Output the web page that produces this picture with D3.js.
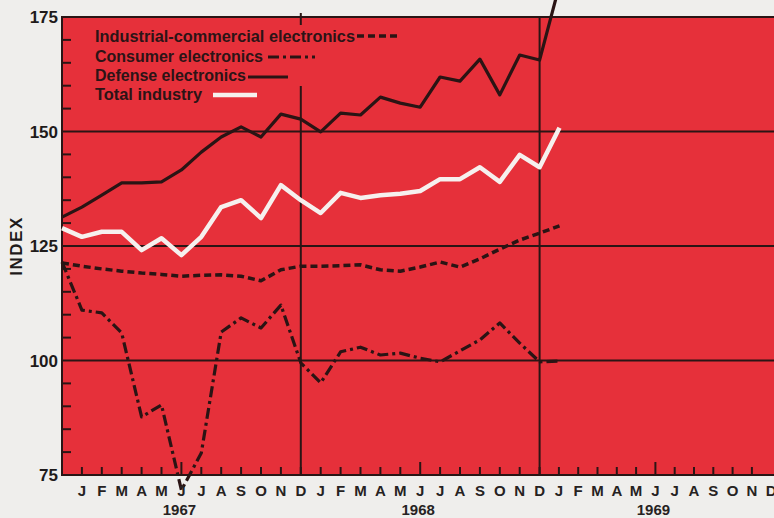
<!DOCTYPE html>
<meta charset="utf-8">
<style>
body { margin: 0; background: #efeeec; }
svg { display: block; font-family: "Liberation Sans", Arial, sans-serif; }
.ylab { font-size: 17px; font-weight: bold; fill: #1e1a1a; text-anchor: end; }
.mlab { font-size: 15px; font-weight: bold; fill: #262222; text-anchor: middle; }
.year { font-size: 15px; font-weight: bold; fill: #262222; text-anchor: middle; }
.leg { font-size: 16px; font-weight: bold; fill: #2c1416; }
.grid { stroke: #2a1515; stroke-width: 2; }
.tick { stroke: #2a1515; stroke-width: 2; }
.series { fill: none; stroke-linejoin: round; }
</style>
<body>
<script src="https://cdn.jsdelivr.net/npm/d3@7"></script>
<script>
// months from Dec 1966 (index 0) to Jan 1969 (index 25)
var industrial = [121.3, 120.6, 120.0, 119.5, 119.1, 118.8, 118.4, 118.6, 118.7, 118.4, 117.4, 119.8,
                  120.6, 120.6, 120.7, 120.9, 119.8, 119.5, 120.4, 121.5, 120.4, 122.2, 124.3, 126.3, 127.8, 129.4];
var consumer   = [121.5, 111.0, 110.4, 106.0, 87.7, 90.3, 71.7, 79.8, 106.2, 109.3, 107.1, 112.1,
                  99.5, 95.1, 101.9, 102.9, 101.2, 101.6, 100.5, 99.7, 102.1, 104.5, 108.2, 103.8, 99.7, 99.9];
var defense    = [131.3, 133.5, 136.1, 138.8, 138.8, 139.0, 141.6, 145.5, 148.8, 151.0, 148.8, 153.8,
                  152.7, 149.9, 154.0, 153.6, 157.5, 156.2, 155.3, 161.9, 161.0, 165.8, 158.0, 166.7, 165.6, 182.0];
var total      = [128.9, 127.0, 128.1, 128.1, 124.1, 126.7, 123.0, 127.0, 133.5, 135.0, 131.1, 138.3,
                  135.0, 132.2, 136.6, 135.5, 136.1, 136.4, 137.0, 139.6, 139.6, 142.2, 139.0, 144.9, 142.2, 150.8];

var monthLetters = ["J","F","M","A","M","J","J","A","S","O","N","D"];
var years = ["1967", "1968", "1969"];
var yMajor = [175, 150, 125, 100, 75];
var legendNames = ["Industrial-commercial electronics", "Consumer electronics", "Defense electronics", "Total industry"];

var width = 774, height = 518;
var red = "#e6303a", ink = "#2a1414";

var x = d3.scaleLinear().domain([0, 36]).range([62, 62 + 19.9 * 36]);
// the 1969 part of the printed axis is a little tighter
var xAxis = d3.scaleLinear().domain([0, 24, 36]).range([x(0), x(24), x(24) + 19.3 * 12]);
var y = d3.scaleLinear().domain([75, 175]).range([475, 17]);

var svg = d3.select("body").append("svg")
    .attr("width", width)
    .attr("height", height);

// red plot field
svg.append("rect")
    .attr("x", x(0)).attr("y", y(175))
    .attr("width", width - x(0)).attr("height", y(75) - y(175))
    .attr("fill", red);

// horizontal grid lines at the major values
svg.selectAll(".grid")
    .data(yMajor.slice(1, 4))
  .enter().append("line")
    .attr("class", "grid")
    .attr("x1", x(0)).attr("x2", width)
    .attr("y1", function(d) { return y(d); })
    .attr("y2", function(d) { return y(d); });

// December year dividers
svg.selectAll(".divider")
    .data([12, 24])
  .enter().append("line")
    .attr("class", "grid")
    .attr("x1", function(d) { return x(d); })
    .attr("x2", function(d) { return x(d); })
    .attr("y1", function(d) { return d == 12 ? y(175) - 4 : y(175); })
    .attr("y2", y(75));

// minor ticks on the left axis
var yMinor = d3.range(80, 175, 5).filter(function(v) { return v % 25 != 0; });
svg.selectAll(".ytick")
    .data(yMinor)
  .enter().append("line")
    .attr("class", "tick")
    .attr("x1", x(0)).attr("x2", x(0) + 9)
    .attr("y1", function(d) { return y(d); })
    .attr("y2", function(d) { return y(d); });

// month ticks on the bottom axis, June a bit longer
svg.selectAll(".xtick")
    .data(d3.range(1, 36))
  .enter().append("line")
    .attr("class", "tick")
    .attr("stroke-width", 1.5)
    .attr("x1", function(d) { return xAxis(d); })
    .attr("x2", function(d) { return xAxis(d); })
    .attr("y1", y(75))
    .attr("y2", function(d) { return y(75) - (d % 12 == 6 ? 13 : 8); });

// legend backing (hides the divider behind the text)
svg.append("rect")
    .attr("x", 90).attr("y", 25).attr("width", 320).attr("height", 61)
    .attr("fill", red);

// axis frame
svg.append("line").attr("class", "grid").attr("stroke-width", 2.5)
    .attr("x1", x(0)).attr("x2", width).attr("y1", y(175)).attr("y2", y(175));
svg.append("line").attr("class", "grid").attr("stroke-width", 2.5)
    .attr("x1", x(0)).attr("x2", width).attr("y1", y(75)).attr("y2", y(75));
svg.append("line").attr("class", "grid").attr("stroke-width", 2.5)
    .attr("x1", x(0)).attr("x2", x(0)).attr("y1", y(175) - 1).attr("y2", y(75) + 1);

// series lines
var line = d3.line()
    .x(function(d, i) { return x(i); })
    .y(function(d) { return y(d); });

var styles = [
  { data: industrial, color: ink, w: 3.5, dash: "7,4" },
  { data: consumer, color: ink, w: 3.2, dash: "11,4,3,4" },
  { data: defense, color: ink, w: 3.2, dash: null },
  { data: total, color: "#f6f0ee", w: 4.5, dash: null }
];

svg.selectAll(".series")
    .data(styles)
  .enter().append("path")
    .attr("class", "series")
    .attr("d", function(d) { return line(d.data); })
    .attr("stroke", function(d) { return d.color; })
    .attr("stroke-width", function(d) { return d.w; })
    .attr("stroke-dasharray", function(d) { return d.dash; });

// legend
var legendPos = [
  { ty: 41.5, tw: 260, lx1: 357, lx2: 400, ly: 36 },
  { ty: 61.5, tw: 168, lx1: 268, lx2: 315, ly: 57 },
  { ty: 81, tw: 151, lx1: 248, lx2: 288, ly: 77 },
  { ty: 100, tw: 107, lx1: 213, lx2: 257, ly: 95 }
];
legendNames.forEach(function(name, i) {
  var p = legendPos[i], s = styles[i];
  svg.append("text")
      .attr("class", "leg")
      .attr("x", 95).attr("y", p.ty)
      .attr("textLength", p.tw)
      .attr("lengthAdjust", "spacingAndGlyphs")
      .text(name);
  svg.append("line")
      .attr("x1", p.lx1).attr("x2", p.lx2)
      .attr("y1", p.ly).attr("y2", p.ly)
      .attr("stroke", s.color)
      .attr("stroke-width", s.w)
      .attr("stroke-dasharray", s.dash);
});

// y labels
svg.selectAll(".ylab")
    .data(yMajor)
  .enter().append("text")
    .attr("class", "ylab")
    .attr("x", 58)
    .attr("y", function(d) { return y(d) + 6; })
    .text(function(d) { return d; });

svg.append("text")
    .attr("class", "ylab")
    .attr("letter-spacing", 1.5)
    .attr("font-size", 15)
    .attr("transform", "translate(22,246) rotate(-90)")
    .style("text-anchor", "middle")
    .text("INDEX");

// month and year labels
svg.selectAll(".mlab")
    .data(d3.range(1, 37))
  .enter().append("text")
    .attr("class", "mlab")
    .attr("x", function(d) { return xAxis(d); })
    .attr("y", 496)
    .text(function(d) { return monthLetters[(d - 1) % 12]; });

svg.selectAll(".year")
    .data(years)
  .enter().append("text")
    .attr("class", "year")
    .attr("x", function(d, i) { return xAxis(6 + 12 * i) - 2; })
    .attr("y", 515)
    .text(function(d) { return d; });
</script>
</body>
